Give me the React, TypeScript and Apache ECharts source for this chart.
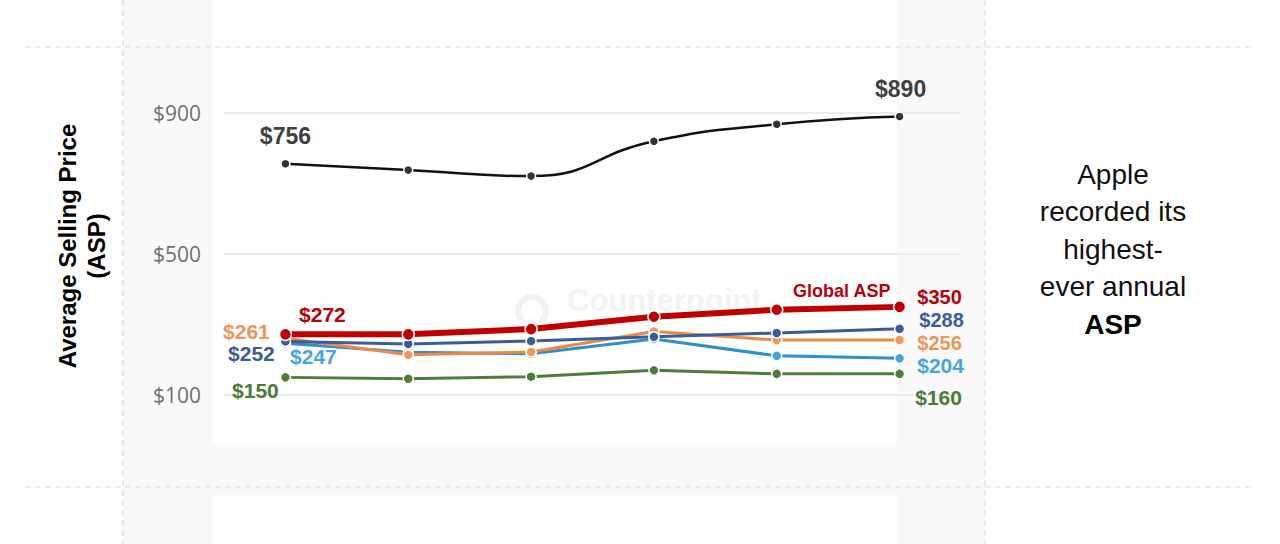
import React, { useEffect, useRef } from "react";
import * as echarts from "echarts";

const categories = ["2019", "2020", "2021", "2022", "2023", "2024"];
const appleAsp = [756, 738, 721, 820, 868, 890];
const globalAsp = [272, 272, 287, 322, 342, 350];
const brandB = [252, 245, 253, 265, 276, 288];
const brandC = [261, 214, 222, 280, 256, 256];
const brandD = [247, 221, 217, 259, 211, 204];
const brandE = [150, 146, 152, 170, 160, 160];
const yTicks = { min: 100, max: 900, interval: 400 };

const FONT = "'Liberation Sans', Arial, sans-serif";

function withLabels(
  values: number[],
  color: string,
  labels: Record<number, { offset: number[]; text?: string; size?: number }>
) {
  return values.map((v, i) => {
    const l = labels[i];
    if (!l) return v;
    return {
      value: v,
      label: {
        show: true,
        position: "inside",
        offset: l.offset,
        align: "center",
        verticalAlign: "middle",
        color,
        fontFamily: FONT,
        fontWeight: "bold",
        fontSize: l.size ?? 21,
        lineHeight: 18,
        formatter: l.text ?? "$" + v,
      },
    };
  });
}

export default function App() {
  const ref = useRef<HTMLDivElement>(null);
  useEffect(() => {
    if (!ref.current) return;
    const chart = echarts.init(ref.current, null, { renderer: "svg" });
    const last = categories.length - 1;
    const lineSeries = (
      name: string,
      values: number[],
      color: string,
      lineColor: string,
      width: number,
      size: number,
      labelColor: string,
      labels: Record<number, { offset: number[]; text?: string; size?: number }>,
      smooth = false
    ) => ({
      type: "line",
      name,
      data: withLabels(values, labelColor, labels),
      smooth,
      symbol: "circle",
      symbolSize: size,
      showSymbol: true,
      lineStyle: { color: lineColor, width },
      itemStyle: { color, borderColor: "#ffffff", borderWidth: 1.5 },
      label: { show: false },
      emphasis: { disabled: true },
    });

    chart.setOption({
      animation: false,
      backgroundColor: "#ffffff",
      graphic: [
        { type: "rect", z: -10, shape: { x: 123, y: 0, width: 89, height: 544 }, style: { fill: "#f9f9f9" } },
        { type: "rect", z: -10, shape: { x: 897, y: 0, width: 88, height: 544 }, style: { fill: "#f9f9f9" } },
        { type: "rect", z: -10, shape: { x: 123, y: 446, width: 862, height: 49 }, style: { fill: "#f9f9f9" } },
        { type: "line", z: -9, shape: { x1: 25, y1: 47, x2: 1253, y2: 47 }, style: { stroke: "#dcdcdc", lineWidth: 1.2, lineDash: [6, 4] } },
        { type: "line", z: -9, shape: { x1: 25, y1: 487, x2: 1253, y2: 487 }, style: { stroke: "#dcdcdc", lineWidth: 1.2, lineDash: [6, 4] } },
        { type: "line", z: -9, shape: { x1: 123, y1: 0, x2: 123, y2: 544 }, style: { stroke: "#dcdcdc", lineWidth: 1.2, lineDash: [6, 4] } },
        { type: "line", z: -9, shape: { x1: 985, y1: 0, x2: 985, y2: 544 }, style: { stroke: "#dcdcdc", lineWidth: 1.2, lineDash: [6, 4] } },
        { type: "ring", z: -8, shape: { cx: 532, cy: 311, r: 17, r0: 11 }, style: { fill: "#f2f2f2" } },
        {
          type: "text",
          z: -8,
          x: 567,
          y: 300,
          style: {
            text: "Counterpoint",
            font: "bold 31px 'Liberation Sans', Arial, sans-serif",
            fill: "#f3f3f3",
            verticalAlign: "middle",
            align: "left",
          },
        },
        {
          type: "text",
          x: 82,
          y: 246,
          rotation: Math.PI / 2,
          style: {
            text: "Average Selling Price\n(ASP)",
            font: "bold 24px 'Liberation Sans', Arial, sans-serif",
            fill: "#000000",
            align: "center",
            verticalAlign: "middle",
            lineHeight: 29,
          },
        },
        {
          type: "text",
          x: 1113,
          y: 249,
          style: {
            text: "Apple\nrecorded its\nhighest-\never annual\n{b|ASP}",
            font: "28px 'Liberation Sans', Arial, sans-serif",
            fill: "#111111",
            align: "center",
            verticalAlign: "middle",
            lineHeight: 37.5,
            rich: {
              b: {
                fontWeight: "bold",
                fontSize: 28,
                fontFamily: FONT,
                fill: "#000000",
                lineHeight: 37.5,
              },
            },
          },
        },
      ],
      grid: { left: 224, right: 319, top: 113, bottom: 149, containLabel: false },
      xAxis: {
        type: "category",
        data: categories,
        boundaryGap: true,
        axisLine: { show: false },
        axisTick: { show: false },
        axisLabel: { show: false },
        splitLine: { show: false },
      },
      yAxis: {
        type: "value",
        min: yTicks.min,
        max: yTicks.max,
        interval: yTicks.interval,
        axisLine: { show: false },
        axisTick: { show: false },
        axisLabel: {
          formatter: (v: number) => "$" + v,
          color: "#6f6f6f",
          fontSize: 21,
          fontFamily: "'Open Sans', sans-serif",
          margin: 23,
        },
        splitLine: { lineStyle: { color: "#ebebeb", width: 2 } },
      },
      series: [
        lineSeries("Brand E", brandE, "#4c7d3f", "#4c7d3f", 3, 10, "#4a7a3c", {
          0: { offset: [-30, 13] },
          [last]: { offset: [39, 24] },
        }),
        lineSeries("Brand D", brandD, "#45a3da", "#2f8fcc", 3, 10, "#47a5db", {
          0: { offset: [28, 13] },
          [last]: { offset: [41, 7] },
        }),
        lineSeries("Brand C", brandC, "#ee9a5e", "#ec8a45", 3, 10, "#eb955a", {
          0: { offset: [-39, -7] },
          [last]: { offset: [40, 3], size: 20 },
        }),
        lineSeries("Brand B", brandB, "#3b5c9a", "#3b5c9a", 3, 10, "#3b5c9a", {
          0: { offset: [-34, 12] },
          [last]: { offset: [42, -9], size: 20 },
        }),
        lineSeries("Global ASP", globalAsp, "#c00000", "#c00000", 6, 12, "#b8000c", {
          0: { offset: [37, -20] },
          4: { offset: [65, -19], text: "Global ASP", size: 18 },
          [last]: { offset: [40, -10], size: 20 },
        }),
        lineSeries(
          "Apple",
          appleAsp,
          "#333333",
          "#111111",
          2.5,
          9,
          "#404040",
          {
            0: { offset: [0, -28], size: 23 },
            [last]: { offset: [1, -28], size: 23 },
          },
          true
        ),
      ],
    });
    return () => chart.dispose();
  }, []);
  return (
    <div
      ref={ref}
      style={{ position: "absolute", left: 0, top: 0, width: 1280, height: 544 }}
    />
  );
}
